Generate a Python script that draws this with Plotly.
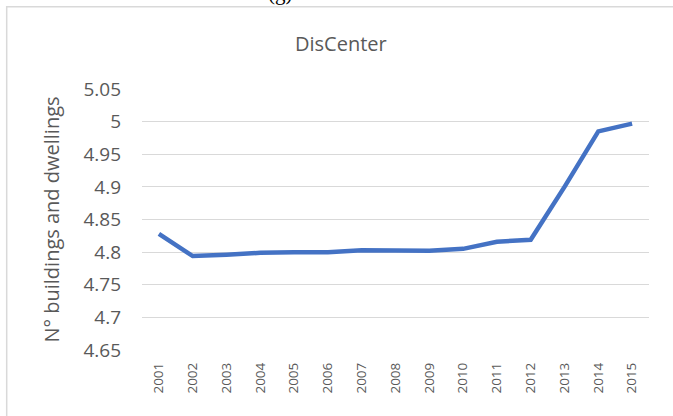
import plotly.graph_objects as go

years = ["2001", "2002", "2003", "2004", "2005", "2006", "2007", "2008",
         "2009", "2010", "2011", "2012", "2013", "2014", "2015"]
values = [4.828, 4.794, 4.796, 4.799, 4.800, 4.800, 4.803, 4.803,
          4.802, 4.805, 4.816, 4.819, 4.900, 4.985, 4.997]
y_ticks = [4.65, 4.70, 4.75, 4.80, 4.85, 4.90, 4.95, 5.00, 5.05]
y_tick_text = ["4.65", "4.7", "4.75", "4.8", "4.85", "4.9", "4.95", "5", "5.05"]

FONT = "Open Sans"
GRAY = "#595959"

fig = go.Figure()
fig.add_trace(go.Scatter(
    x=years, y=values, mode="lines",
    line=dict(color="#4472C4", width=4.5),
    hoverinfo="skip",
))

L, R, T, B = 142, 24, 89, 66
W, H = 673, 416
pw, ph = W - L - R, H - T - B

def px_x(x):
    return (x - L) / pw

def px_y(y):
    return (H - B - y) / ph

fig.update_layout(
    width=W, height=H,
    margin=dict(l=L, r=R, t=T, b=B, pad=0),
    paper_bgcolor="white", plot_bgcolor="white",
    showlegend=False,
    font=dict(family=FONT, color=GRAY),
    xaxis=dict(
        type="category", range=[-0.5, 14.5],
        showgrid=False, zeroline=False, showline=False,
        tickangle=-90, tickfont=dict(size=13.5, color=GRAY, family=FONT),
        ticks="", ticklabelstandoff=9,
    ),
    yaxis=dict(
        range=[4.65, 5.05], tickvals=y_ticks, ticktext=y_tick_text,
        showgrid=True, gridcolor="#d9d9d9", gridwidth=1.3,
        zeroline=False, showline=False, ticks="",
        tickfont=dict(size=19, color=GRAY, family=FONT),
        ticklabelstandoff=20,
        title=dict(text="N° buildings and dwellings",
                   font=dict(size=20, color=GRAY, family=FONT), standoff=18),
    ),
    shapes=[
        dict(type="rect", xref="paper", yref="paper",
             x0=px_x(6.7), x1=1.2, y0=-0.5, y1=px_y(6.7),
             line=dict(color="#d9d9d9", width=1.5), layer="below"),
    ],
    annotations=[
        dict(text="DisCenter", xref="paper", yref="paper",
             x=px_x(341), y=px_y(43), xanchor="center", yanchor="middle",
             showarrow=False, font=dict(size=20, color=GRAY, family=FONT)),
        dict(text="(g)", xref="paper", yref="paper",
             x=px_x(280), y=px_y(7), xanchor="center", yanchor="bottom",
             showarrow=False,
             font=dict(size=21, color="black", family="Liberation Serif")),
    ],
)

fig.write_html(
    "out.html",
    config={"displayModeBar": False},
    post_script="document.body.style.margin='0';document.body.style.padding='0';",
)
